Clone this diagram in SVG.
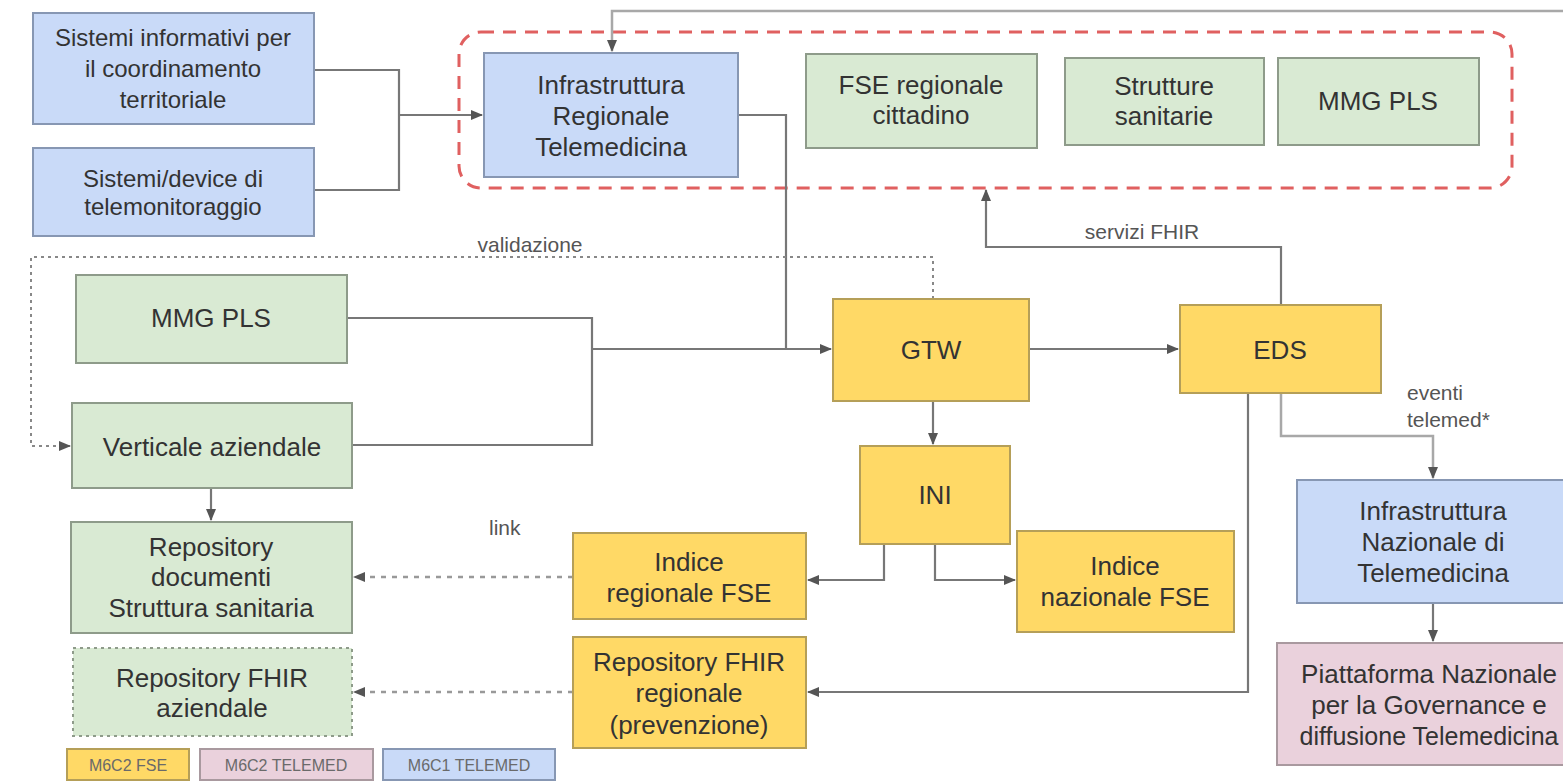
<svg xmlns="http://www.w3.org/2000/svg" width="1563" height="781" viewBox="0 0 1563 781">
<defs>
<marker id="ah" markerUnits="userSpaceOnUse" markerWidth="12" markerHeight="10" refX="11" refY="5" orient="auto">
<path d="M0,0 L12,5 L0,10 z" fill="#555"/>
</marker>
<style>
text{font-family:"Liberation Sans",Arial,sans-serif;fill:#333;text-anchor:middle}
.t{font-size:26px}
.s{font-size:24px}
.lb{font-size:21px;fill:#555}
.lg{font-size:16px;fill:#6a6a6a}
.blue{fill:#c9daf8;stroke:#8797b3;stroke-width:2}
.green{fill:#d9ead3;stroke:#8e9b8a;stroke-width:2}
.yel{fill:#ffd966;stroke:#b59f58;stroke-width:2}
.pink{fill:#ead1dc;stroke:#a9999f;stroke-width:2}
.dotbox{fill:#d9ead3;stroke:#8e9b8a;stroke-width:2;stroke-dasharray:3 4}
.c{fill:none;stroke:#777;stroke-width:2.2}
.cl{fill:none;stroke:#a8a8a8;stroke-width:2.5}
.d{fill:none;stroke:#888;stroke-width:2;stroke-dasharray:3 4}
.dl{fill:none;stroke:#999;stroke-width:2.5;stroke-dasharray:5 6}
.red{fill:none;stroke:#e06060;stroke-width:3;stroke-dasharray:13 9}
</style>
</defs>
<rect width="1563" height="781" fill="#ffffff"/>

<g id="group-regionale">
<rect class="red" x="459" y="32" width="1053" height="156" rx="22" ry="22"/>
</g>

<g id="connectors">
<path class="c" d="M314,70 H399 V190 H314"/>
<path class="c" d="M399,115 H482" marker-end="url(#ah)"/>
<path class="cl" d="M1563,11 H612 V51" marker-end="url(#ah)"/>
<path class="c" d="M738,115 H786 V349"/>
<path class="c" d="M347,318 H592 V445 H352"/>
<path class="c" d="M592,349 H831" marker-end="url(#ah)"/>
<path class="d" d="M933,299 V257 H31 V446 H70" marker-end="url(#ah)"/>
<path class="c" d="M1029,349 H1178" marker-end="url(#ah)"/>
<path class="c" d="M933,401 V444" marker-end="url(#ah)"/>
<path class="c" d="M884,544 V580 H808" marker-end="url(#ah)"/>
<path class="c" d="M935,544 V580 H1015" marker-end="url(#ah)"/>
<path class="c" d="M1281,305 V247 H986 V190" marker-end="url(#ah)"/>
<path class="cl" d="M1281,393 V436 H1433 V478" marker-end="url(#ah)"/>
<path class="c" d="M1248,393 V692 H808" marker-end="url(#ah)"/>
<path class="c" d="M1433,603 V641" marker-end="url(#ah)"/>
<path class="c" d="M211,488 V520" marker-end="url(#ah)"/>
<path class="dl" d="M573,577 H354" marker-end="url(#ah)"/>
<path class="dl" d="M573,692 H354" marker-end="url(#ah)"/>
<text class="lb" x="530" y="252">validazione</text>
<text class="lb" x="1142" y="239">servizi FHIR</text>
<text class="lb" x="489" y="535" style="text-anchor:start">link</text>
<text class="lb" x="1407" y="400" style="text-anchor:start">eventi</text>
<text class="lb" x="1407" y="427" style="text-anchor:start">telemed*</text>
</g>

<g id="sistemi-informativi">
<rect class="blue" x="33" y="13" width="281" height="111"/>
<text class="s" x="173" y="46">Sistemi informativi per</text>
<text class="s" x="173" y="77">il coordinamento</text>
<text class="s" x="173" y="108">territoriale</text>
</g>

<g id="sistemi-device">
<rect class="blue" x="33" y="148" width="281" height="88"/>
<text class="s" x="173" y="187">Sistemi/device di</text>
<text class="s" x="173" y="215">telemonitoraggio</text>
</g>

<g id="infra-regionale">
<rect class="blue" x="484" y="53" width="254" height="124"/>
<text class="t" x="611" y="94">Infrastruttura</text>
<text class="t" x="611" y="125">Regionale</text>
<text class="t" x="611" y="156">Telemedicina</text>
</g>

<g id="fse-regionale">
<rect class="green" x="806" y="54" width="231" height="94"/>
<text class="t" x="921" y="94">FSE regionale</text>
<text class="t" x="921" y="124">cittadino</text>
</g>

<g id="strutture-sanitarie">
<rect class="green" x="1065" y="58" width="199" height="87"/>
<text class="t" x="1164" y="95">Strutture</text>
<text class="t" x="1164" y="125">sanitarie</text>
</g>

<g id="mmg-pls-top">
<rect class="green" x="1278" y="58" width="201" height="87"/>
<text class="t" x="1378" y="110">MMG PLS</text>
</g>

<g id="mmg-pls">
<rect class="green" x="76" y="275" width="271" height="88"/>
<text class="t" x="211" y="327">MMG PLS</text>
</g>

<g id="verticale-aziendale">
<rect class="green" x="72" y="403" width="280" height="85"/>
<text class="t" x="212" y="456">Verticale aziendale</text>
</g>

<g id="repository-documenti">
<rect class="green" x="71" y="522" width="281" height="111"/>
<text class="t" x="211" y="556">Repository</text>
<text class="t" x="211" y="586">documenti</text>
<text class="t" x="211" y="617">Struttura sanitaria</text>
</g>

<g id="repository-fhir-aziendale">
<rect class="dotbox" x="73" y="648" width="279" height="88"/>
<text class="t" x="212" y="687">Repository FHIR</text>
<text class="t" x="212" y="717">aziendale</text>
</g>

<g id="gtw">
<rect class="yel" x="833" y="299" width="196" height="102"/>
<text class="t" x="931" y="359">GTW</text>
</g>

<g id="eds">
<rect class="yel" x="1180" y="305" width="201" height="88"/>
<text class="t" x="1280" y="359">EDS</text>
</g>

<g id="ini">
<rect class="yel" x="860" y="446" width="150" height="98"/>
<text class="t" x="935" y="504">INI</text>
</g>

<g id="indice-regionale">
<rect class="yel" x="573" y="533" width="233" height="86"/>
<text class="t" x="689" y="571">Indice</text>
<text class="t" x="689" y="602">regionale FSE</text>
</g>

<g id="repository-fhir-regionale">
<rect class="yel" x="573" y="637" width="233" height="111"/>
<text class="t" x="689" y="671">Repository FHIR</text>
<text class="t" x="689" y="702">regionale</text>
<text class="t" x="689" y="734">(prevenzione)</text>
</g>

<g id="indice-nazionale">
<rect class="yel" x="1017" y="531" width="217" height="101"/>
<text class="t" x="1125" y="575">Indice</text>
<text class="t" x="1125" y="606">nazionale FSE</text>
</g>

<g id="infra-nazionale">
<rect class="blue" x="1297" y="480" width="280" height="123"/>
<text class="t" x="1433" y="520">Infrastruttura</text>
<text class="t" x="1433" y="551">Nazionale di</text>
<text class="t" x="1433" y="582">Telemedicina</text>
</g>

<g id="piattaforma-nazionale">
<rect class="pink" x="1277" y="643" width="310" height="122"/>
<text class="t" x="1429" y="683">Piattaforma Nazionale</text>
<text class="t" x="1429" y="714">per la Governance e</text>
<text class="t" x="1429" y="745" style="font-size:25px">diffusione Telemedicina</text>
</g>

<g id="legend">
<rect class="yel" x="67" y="749" width="122" height="31"/>
<text class="lg" x="128" y="771">M6C2 FSE</text>
<rect class="pink" x="200" y="749" width="173" height="31"/>
<text class="lg" x="286" y="771">M6C2 TELEMED</text>
<rect class="blue" x="383" y="749" width="172" height="31"/>
<text class="lg" x="469" y="771">M6C1 TELEMED</text>
</g>
</svg>
